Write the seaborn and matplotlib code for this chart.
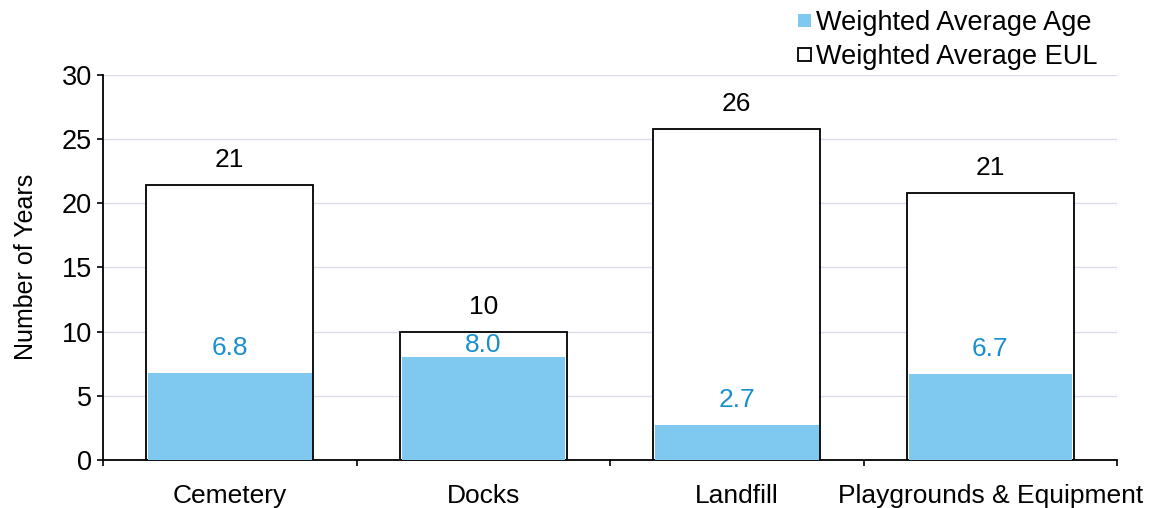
import matplotlib
matplotlib.use("Agg")
import matplotlib.pyplot as plt
from matplotlib.patches import Patch
from matplotlib.ticker import FixedLocator
import numpy as np
import pandas as pd
import seaborn as sns

categories = ["Cemetery", "Docks", "Landfill", "Playgrounds & Equipment"]
avg_age = [6.8, 8.0, 2.7, 6.7]
avg_eul = [21.4, 10.0, 25.8, 20.8]
y_ticks = [0, 5, 10, 15, 20, 25, 30]

AGE_COLOR = "#7fc9f1"
AGE_TEXT = "#1a8fd0"

sns.set_theme(style="white")
plt.rcParams["font.family"] = ["Liberation Sans", "DejaVu Sans"]
for key in ["text.color", "axes.labelcolor", "xtick.color", "ytick.color"]:
    plt.rcParams[key] = "black"

df = pd.DataFrame({"category": categories, "age": avg_age, "eul": avg_eul})

fig = plt.figure(figsize=(11.5, 5.08), dpi=100)
ax = fig.add_axes([0.0896, 0.0945, 0.8817, 0.7585])

for y in y_ticks[1:]:
    ax.axhline(y, color="#dcdbea", lw=1.0, zorder=0)

sns.barplot(data=df, x="category", y="eul", color="white", edgecolor="black",
            linewidth=1.3, width=0.66, saturation=1, ax=ax, zorder=2)
sns.barplot(data=df, x="category", y="age", color=AGE_COLOR, edgecolor="none",
            linewidth=0, width=0.645, saturation=1, ax=ax, zorder=3)

for i, (a, e) in enumerate(zip(avg_age, avg_eul)):
    ax.text(i, e + 1.0, f"{e:.0f}", ha="center", va="bottom", fontsize=19,
            color="black", zorder=5)
    # keep the age label below the EUL outline when the two bars are close
    ya = min(a + 1.0, e - 2.0)
    ax.text(i, ya, f"{a:.1f}", ha="center", va="bottom", fontsize=19,
            color=AGE_TEXT, zorder=5)

ax.set_xlim(-0.5, len(categories) - 0.5)
ax.set_ylim(0, 30)
ax.set_yticks(y_ticks)
ax.set_xlabel("")
ax.set_ylabel("Number of Years", fontsize=18, labelpad=17)
ax.tick_params(axis="y", labelsize=19.5, length=4.5, width=1.2,
               left=True, direction="out", pad=3.5)
ax.tick_params(axis="x", which="major", labelsize=19, length=0, pad=17.5)
ax.xaxis.set_minor_locator(FixedLocator(np.arange(-0.5, len(categories), 1.0)))
ax.tick_params(axis="x", which="minor", length=4, width=1.2,
               bottom=True, direction="out")

for side in ["top", "right"]:
    ax.spines[side].set_visible(False)
for side in ["left", "bottom"]:
    ax.spines[side].set_color("black")
    ax.spines[side].set_linewidth(1.3)

handles = [Patch(facecolor=AGE_COLOR, edgecolor="none", label="Weighted Average Age"),
           Patch(facecolor="white", edgecolor="black", linewidth=1.3,
                 label="Weighted Average EUL")]
fig.legend(handles=handles, loc="upper left", bbox_to_anchor=(0.6935, 0.98),
           frameon=False, fontsize=19.5, handlelength=0.5, handleheight=0.4,
           handletextpad=0.2, labelspacing=0.3, borderpad=0.0,
           borderaxespad=0.0)

fig.savefig("out.png", dpi=100, facecolor="white")
